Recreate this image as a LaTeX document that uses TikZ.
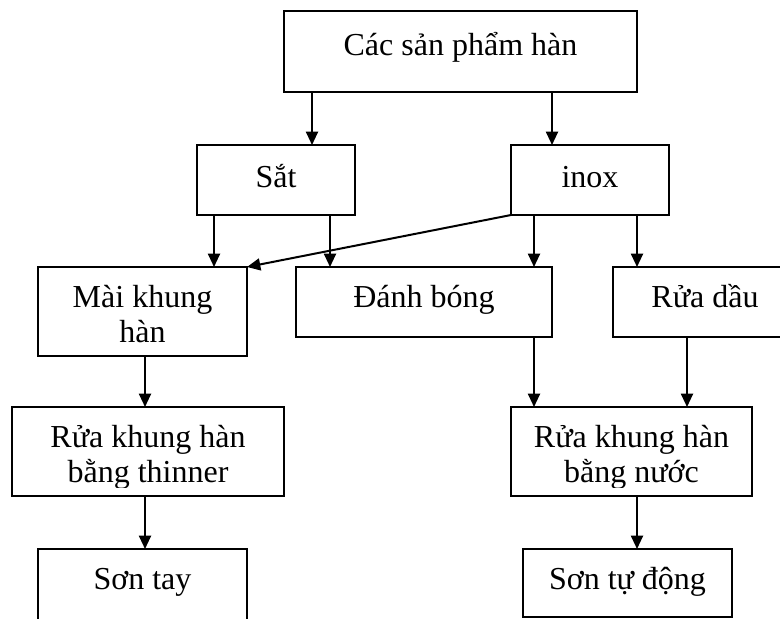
\documentclass[tikz,border=0pt]{standalone}
\usepackage{fontspec}
\setmainfont{Liberation Serif}
\usetikzlibrary{arrows.meta,calc,fit}
% multi-line label whose baseline is that of its first line
\newcommand{\boxtext}[1]{\begin{tabular}[t]{@{}c@{}}#1\end{tabular}}
\begin{document}
\begin{tikzpicture}[x=0.75pt,y=-0.75pt,
  box/.style={draw,line width=1.4pt,inner sep=0pt,outer sep=0pt},
  lbl/.style={anchor=base,inner sep=0pt,font=\fontsize{24pt}{26.25pt}\selectfont},
  arr/.style={line width=1.5pt,-{Triangle[length=10pt,width=9pt]}}]
\useasboundingbox (0,0) rectangle (780,618);
\clip (0,0) rectangle (780,618);

% boxes
\node[box,fit={(284,11) (637,92)}]   (top)   {};
\node[box,fit={(197,145) (355,215)}] (sat)   {};
\node[box,fit={(511,145) (669,215)}] (inox)  {};
\node[box,fit={(38,267) (247,356)}]  (mai)   {};
\node[box,fit={(296,267) (552,337)}] (danh)  {};
\node[box,fit={(613,267) (797,337)}] (rua)   {};
\node[box,fit={(12,407) (284,496)}]  (thin)  {};
\node[box,fit={(511,407) (752,496)}] (nuoc)  {};
\node[box,fit={(38,549) (247,640)}]  (sontay){};
\node[box,fit={(523,549) (732,617)}] (sontd) {};

% labels
\node[lbl] (topT)  at ($(top.north)+(0,44)$)  {\boxtext{Các sản phẩm hàn}};
\node[lbl] (satT)  at ($(sat.north)+(0,42)$)  {\boxtext{Sắt}};
\node[lbl] (inoxT) at ($(inox.north)+(0,42)$) {\boxtext{inox}};
\node[lbl] (maiT)  at ($(mai.north)+(0,40)$)  {\boxtext{Mài khung\\hàn}};
\node[lbl] (danhT) at ($(danh.north)+(0,40)$) {\boxtext{Đánh bóng}};
\node[lbl] (ruaT)  at ($(rua.north)+(0,40)$)  {\boxtext{Rửa dầu}};
\begin{scope}
  \clip (thin.north west) rectangle ($(thin.south east)+(0,-9)$);
  \node[lbl] (thinT) at ($(thin.north)+(0,40)$) {\boxtext{Rửa khung hàn\\bằng thinner}};
\end{scope}
\begin{scope}
  \clip (nuoc.north west) rectangle ($(nuoc.south east)+(0,-9)$);
  \node[lbl] (nuocT) at ($(nuoc.north)+(0,40)$) {\boxtext{Rửa khung hàn\\bằng nước}};
\end{scope}
\node[lbl] (sontayT) at ($(sontay.north)+(0,40)$) {\boxtext{Sơn tay}};
\node[lbl] (sontdT)  at ($(sontd.north)+(0,40)$)  {\boxtext{Sơn tự động}};

% horizontal positions of the vertical connectors
\coordinate (xa) at (312,0);
\coordinate (xb) at (552,0);
\coordinate (xc) at (214,0);
\coordinate (xd) at (330,0);
\coordinate (xe) at (534,0);
\coordinate (xf) at (637,0);
\coordinate (xg) at (145,0);
\coordinate (xh) at (687,0);

% connectors
\draw[arr] (top.south -| xa) -- (sat.north -| xa);
\draw[arr] (top.south -| xb) -- (inox.north -| xb);
\draw[arr] (sat.south -| xc) -- (mai.north -| xc);
\draw[arr] (sat.south -| xd) -- (danh.north -| xd);
\draw[arr] (inox.south west) -- (mai.north east);
\draw[arr] (inox.south -| xe) -- (danh.north -| xe);
\draw[arr] (inox.south -| xf) -- (rua.north -| xf);
\draw[arr] (mai.south -| xg) -- (thin.north -| xg);
\draw[arr] (danh.south -| xe) -- (nuoc.north -| xe);
\draw[arr] (rua.south -| xh) -- (nuoc.north -| xh);
\draw[arr] (thin.south -| xg) -- (sontay.north -| xg);
\draw[arr] (nuoc.south -| xf) -- (sontd.north -| xf);
\end{tikzpicture}
\end{document}
